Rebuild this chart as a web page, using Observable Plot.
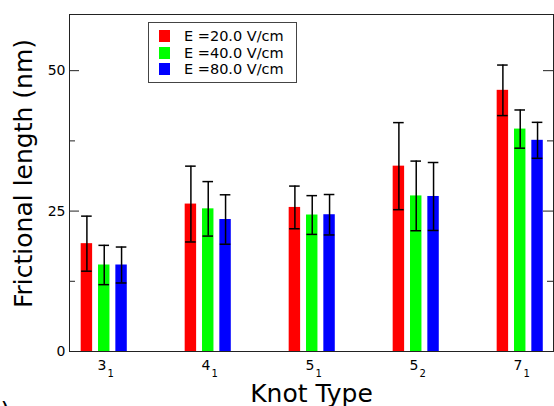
<!DOCTYPE html>
<html>
<head>
<meta charset="utf-8">
<script src="https://cdn.jsdelivr.net/npm/d3@7"></script>
<script src="https://cdn.jsdelivr.net/npm/@observablehq/plot@0.6"></script>
<style>
  html, body { margin: 0; padding: 0; background: #fff; }
  #wrap { position: relative; width: 554px; height: 406px; font-family: "DejaVu Sans", sans-serif; }
  #legend { position: absolute; left: 148px; top: 22px; width: 149px; height: 61px; border: 1px solid #444; background: #fff; box-sizing: border-box; }
  .item { position: absolute; left: 0; height: 16px; display: flex; align-items: center; font-size: 14.5px; color: #000; white-space: nowrap; }
  .sw { width: 11px; height: 12px; margin-left: 10px; margin-right: 14px; }
</style>
</head>
<body>
<div id="wrap"></div>
<script>
// ---- data ----
const knotBase = ["3", "4", "5", "5", "7"];
const knotSub  = ["1", "1", "1", "2", "1"];
const fields = ["E =20.0 V/cm", "E =40.0 V/cm", "E =80.0 V/cm"];
const colors = ["#ff0000", "#00ff00", "#0000ff"];
const values20 = [19.2, 26.25, 25.65, 33.0, 46.5];
const err20    = [4.9, 6.75, 3.8, 7.75, 4.5];
const values40 = [15.4, 25.4, 24.3, 27.7, 39.6];
const err40    = [3.5, 4.85, 3.45, 6.2, 3.4];
const values80 = [15.4, 23.5, 24.35, 27.6, 37.6];
const err80    = [3.2, 4.4, 3.6, 6.05, 3.2];
const yMajor = [0, 25, 50];
const yMinor = [12.5, 37.5];
const yLabel = "Frictional length (nm)";
const xLabel = "Knot Type";

const series = [values20, values40, values80];
const errs = [err20, err40, err80];
const step = 1 / 6, half = 0.055, cap = 0.051;
const rows = [];
series.forEach((vals, j) => vals.forEach((v, i) => {
  const c = i + (j - 1) * step;
  rows.push({ field: fields[j], c, x1: c - half, x2: c + half, v, lo: v - errs[j][i], hi: v + errs[j][i] });
}));
const caps = rows.flatMap(d => [{ x1: d.c - cap, x2: d.c + cap, y: d.lo }, { x1: d.c - cap, x2: d.c + cap, y: d.hi }]);
const knots = knotBase.map((b, i) => ({ i, b, s: knotSub[i] }));
const font = "DejaVu Sans";

const plot = Plot.plot({
  width: 554, height: 406,
  marginLeft: 69, marginRight: 1, marginTop: 14, marginBottom: 55,
  style: { fontFamily: font, background: "#fff", overflow: "hidden" },
  x: { type: "linear", domain: [-0.334, 4.32], axis: null },
  y: { domain: [0, 60], axis: null },
  color: { domain: fields, range: colors },
  marks: [
    Plot.rectY(rows, { x1: "x1", x2: "x2", y1: 0, y2: "v", fill: "field" }),
    Plot.ruleX(rows, { x: "c", y1: "lo", y2: "hi", stroke: "#000", strokeWidth: 1.5 }),
    Plot.ruleY(caps, { x1: "x1", x2: "x2", y: "y", stroke: "#000", strokeWidth: 1.5 }),
    Plot.tickY(yMajor, { y: d => d, insetRight: 474, stroke: "#222" }),
    Plot.tickY(yMinor, { y: d => d, insetRight: 478, stroke: "#222" }),
    Plot.tickY(yMajor, { y: d => d, insetLeft: 474, stroke: "#222" }),
    Plot.tickY(yMinor, { y: d => d, insetLeft: 478, stroke: "#222" }),
    Plot.frame({ stroke: "#222" }),
    Plot.text(yMajor, { y: d => d, text: d => String(d), frameAnchor: "left", dx: -4, textAnchor: "end", fontSize: 14, fill: "#000" }),
    Plot.text(knots, { x: "i", text: "b", frameAnchor: "bottom", dx: -2.2, dy: 18, lineAnchor: "bottom", fontSize: 14, fill: "#000" }),
    Plot.text(knots, { x: "i", text: "s", frameAnchor: "bottom", dx: 6.5, dy: 25, lineAnchor: "bottom", fontSize: 10, fill: "#000" }),
    Plot.text([xLabel], { frameAnchor: "bottom", dy: 50, lineAnchor: "bottom", fontSize: 25, fill: "#000" }),
    Plot.text([yLabel], { frameAnchor: "left", dx: -38, dy: -9.5, rotate: -90, textAnchor: "middle", lineAnchor: "bottom", fontSize: 25, fill: "#000" }),
    Plot.text([")"], { frameAnchor: "bottom-left", dx: -69, dy: 68, textAnchor: "start", lineAnchor: "bottom", fontSize: 25, fill: "#000" })
  ]
});

const wrap = document.getElementById("wrap");
wrap.appendChild(plot);
const legend = document.createElement("div");
legend.id = "legend";
const tops = [5, 21.5, 38];
fields.forEach((f, j) => {
  const it = document.createElement("div");
  it.className = "item";
  it.style.top = tops[j] + "px";
  const sw = document.createElement("span");
  sw.className = "sw";
  sw.style.background = colors[j];
  const t = document.createElement("span");
  t.textContent = f;
  it.appendChild(sw); it.appendChild(t);
  legend.appendChild(it);
});
wrap.appendChild(legend);
</script>
</body>
</html>
